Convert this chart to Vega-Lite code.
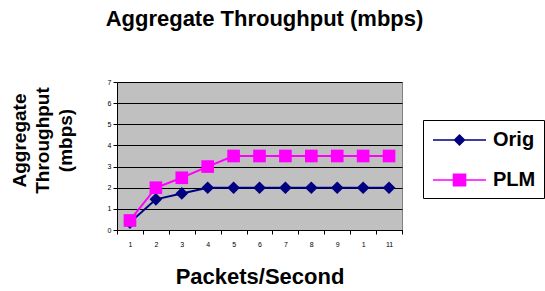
{
  "$schema": "https://vega.github.io/schema/vega-lite/v6.json",
  "autosize": {"type": "none"},
  "padding": {"left": 117, "top": 82, "right": 143, "bottom": 61},
  "width": 285,
  "height": 148,
  "background": "white",
  "config": {
    "font": "Liberation Sans",
    "view": {"fill": "#c0c0c0", "stroke": "#808080", "strokeWidth": 1}
  },
  "title": {
    "text": "Aggregate Throughput (mbps)",
    "fontSize": 22,
    "fontWeight": "bold",
    "color": "#000000",
    "anchor": "middle",
    "baseline": "alphabetic",
    "offset": 30,
    "dx": 5
  },
  "data": {
    "values": [
      {"x": 1, "series": "Orig", "y": 0.35},
      {"x": 2, "series": "Orig", "y": 1.45},
      {"x": 3, "series": "Orig", "y": 1.73},
      {"x": 4, "series": "Orig", "y": 2.0},
      {"x": 5, "series": "Orig", "y": 2.0},
      {"x": 6, "series": "Orig", "y": 2.0},
      {"x": 7, "series": "Orig", "y": 2.0},
      {"x": 8, "series": "Orig", "y": 2.0},
      {"x": 9, "series": "Orig", "y": 2.0},
      {"x": 10, "series": "Orig", "y": 2.0},
      {"x": 11, "series": "Orig", "y": 2.0},
      {"x": 1, "series": "PLM", "y": 0.45},
      {"x": 2, "series": "PLM", "y": 2.0},
      {"x": 3, "series": "PLM", "y": 2.47},
      {"x": 4, "series": "PLM", "y": 3.0},
      {"x": 5, "series": "PLM", "y": 3.5},
      {"x": 6, "series": "PLM", "y": 3.5},
      {"x": 7, "series": "PLM", "y": 3.5},
      {"x": 8, "series": "PLM", "y": 3.5},
      {"x": 9, "series": "PLM", "y": 3.5},
      {"x": 10, "series": "PLM", "y": 3.5},
      {"x": 11, "series": "PLM", "y": 3.5}
    ]
  },
  "encoding": {
    "x": {
      "field": "x",
      "type": "ordinal",
      "scale": {"type": "band", "paddingInner": 0, "paddingOuter": 0},
      "axis": {
        "title": "Packets/Second",
        "titleFontSize": 22,
        "titleFontWeight": "bold",
        "titleColor": "#000000",
        "titleBaseline": "alphabetic",
        "titleY": 53,
        "labelAngle": 0,
        "labelFontSize": 7,
        "labelColor": "#000000",
        "labelPadding": 6,
        "labelExpr": "datum.value == 10 ? '1' : datum.label",
        "tickBand": "extent",
        "tickSize": 4,
        "tickColor": "#000000",
        "domainColor": "#000000",
        "grid": false
      }
    },
    "y": {
      "field": "y",
      "type": "quantitative",
      "scale": {"domain": [0, 7], "nice": false},
      "axis": {
        "title": ["Aggregate", "Throughput", "(mbps)"],
        "titleFontSize": 19,
        "titleFontWeight": "bold",
        "titleColor": "#000000",
        "titleLineHeight": 23,
        "titleAlign": "center",
        "titleBaseline": "middle",
        "titleAngle": -90,
        "titleX": -98,
        "titleY": 58,
        "values": [0, 1, 2, 3, 4, 5, 6, 7],
        "labelFontSize": 7,
        "labelColor": "#000000",
        "labelPadding": 2,
        "tickSize": 4,
        "tickColor": "#000000",
        "domainColor": "#000000",
        "grid": true,
        "gridColor": "#000000",
        "gridOpacity": 1,
        "gridWidth": 1
      }
    },
    "color": {
      "field": "series",
      "type": "nominal",
      "scale": {"domain": ["Orig", "PLM"], "range": ["#000080", "#FF00FF"]},
      "legend": {
        "title": null,
        "orient": "none",
        "legendX": 306,
        "legendY": 38,
        "padding": 8,
        "strokeColor": "#000000",
        "fillColor": "#ffffff",
        "symbolSize": 484,
        "rowPadding": 18,
        "labelOffset": 38,
        "labelFontSize": 20,
        "labelFontWeight": "bold",
        "labelColor": "#000000",
        "labelBaseline": "middle",
        "encode": {
          "symbols": {
            "update": {
              "shape": {"signal": "datum.value === 'Orig' ? 'M-0.91,0H3.91M1.5,-0.45L1.95,0L1.5,0.45L1.05,0Z' : 'M-0.91,0H3.91M0.95,-0.52H2.05V0.52H0.95Z'"},
              "fill": {"signal": "datum.value === 'Orig' ? '#000080' : '#FF00FF'"},
              "stroke": {"signal": "datum.value === 'Orig' ? '#000080' : '#FF00FF'"},
              "strokeWidth": {"value": 1.5},
              "opacity": {"value": 1},
              "fillOpacity": {"value": 1}
            }
          }
        }
      }
    }
  },
  "layer": [
    {
      "mark": {"type": "line", "strokeWidth": 2}
    },
    {
      "transform": [{"filter": "datum.series === 'Orig'"}],
      "mark": {"type": "point", "shape": "diamond", "filled": true, "opacity": 1, "size": 160}
    },
    {
      "transform": [{"filter": "datum.series === 'PLM'"}],
      "mark": {"type": "point", "shape": "square", "filled": true, "opacity": 1, "size": 160}
    }
  ]
}
